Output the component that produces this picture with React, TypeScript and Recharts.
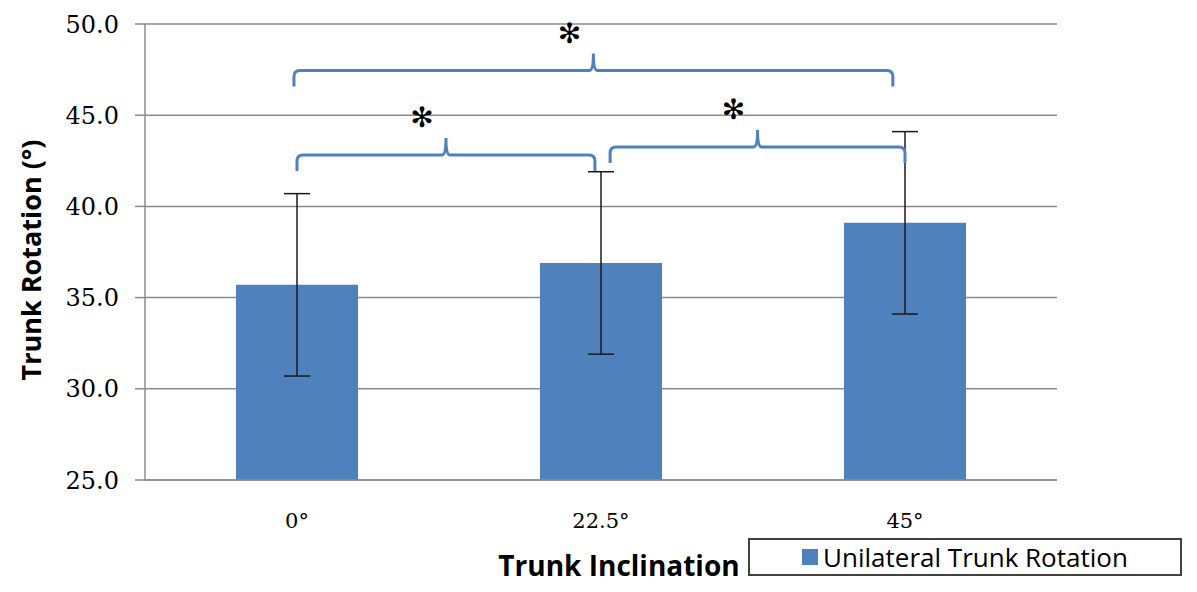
import React from "react";
import {
  BarChart,
  Bar,
  XAxis,
  YAxis,
  CartesianGrid,
  ErrorBar,
  Legend,
  ReferenceLine,
  Label,
} from "recharts";

const categories = ["0°", "22.5°", "45°"];
const rotationMean = [35.7, 36.9, 39.1];
const rotationSd = [5.0, 5.0, 5.0];
const yTicks = [25, 30, 35, 40, 45, 50];

// significance braces, x in category index units, y in degrees
const braces = [
  { x1: -0.01, x2: 1.96, y: 47.45 },
  { x1: 0.0, x2: 0.98, y: 42.82 },
  { x1: 1.03, x2: 2.0, y: 43.26 },
];

const rows = categories.map((name, i) => ({
  x: i,
  name,
  mean: rotationMean[i],
  sd: rotationSd[i],
}));

const BLUE = "#4F81BD";
const GRID = "#8c8c8c";

const BraceShape = (props: any) => {
  const { x1, y1, x2 } = props;
  const y = y1;
  const drop = 16;
  const rise = 17;
  const r = 6;
  const mid = (x1 + x2) / 2;
  const d = [
    `M ${x1} ${y + drop}`,
    `L ${x1} ${y + r}`,
    `Q ${x1} ${y} ${x1 + r} ${y}`,
    `L ${mid - 4} ${y}`,
    `Q ${mid} ${y} ${mid} ${y - rise}`,
    `Q ${mid} ${y} ${mid + 4} ${y}`,
    `L ${x2 - r} ${y}`,
    `Q ${x2} ${y} ${x2} ${y + r}`,
    `L ${x2} ${y + drop}`,
  ].join(" ");
  return (
    <g>
      <path d={d} fill="none" stroke={BLUE} strokeWidth={3} />
      <text
        x={mid - 24}
        y={y - 37}
        textAnchor="middle"
        dominantBaseline="central"
        fontFamily="DejaVu Sans"
        fontSize={28}
        fill="#000"
      >
        ✻
      </text>
    </g>
  );
};

const LegendBox = () => (
  <div
    style={{
      width: 434,
      height: 38,
      boxSizing: "border-box",
      border: "2px solid #404040",
      background: "#fff",
      display: "flex",
      alignItems: "center",
      justifyContent: "center",
      fontFamily: "Open Sans",
      fontSize: 26,
      lineHeight: "30px",
      color: "#000",
      overflow: "hidden",
      whiteSpace: "nowrap",
    }}
  >
    <span
      style={{
        width: 16,
        height: 16,
        background: BLUE,
        display: "inline-block",
        marginRight: 5,
        flexShrink: 0,
      }}
    />
    <span>Unilateral Trunk Rotation</span>
  </div>
);

const YTitle = (props: any) => {
  const vb = props.viewBox;
  const cx = vb.x + 22;
  const cy = vb.y + vb.height / 2 + 8;
  return (
    <text
      x={cx}
      y={cy}
      transform={`rotate(-90, ${cx}, ${cy})`}
      textAnchor="middle"
      dominantBaseline="central"
      fontFamily="Open Sans"
      fontWeight="bold"
      fontSize={27}
      fill="#000"
    >
      Trunk Rotation (°)
    </text>
  );
};

const XTitle = (props: any) => {
  const vb = props.viewBox;
  const cx = vb.x + vb.width / 2 + 18;
  const baseline = vb.y + 96;
  return (
    <text
      x={cx}
      y={baseline}
      textAnchor="middle"
      fontFamily="Open Sans"
      fontWeight="bold"
      fontSize={28}
      fill="#000"
    >
      Trunk Inclination
    </text>
  );
};

export default function App() {
  return (
    <div style={{ width: 1189, height: 576, overflow: "hidden" }}>
      <BarChart
        width={1189}
        height={576}
        data={rows}
        margin={{ top: 16, right: 140, bottom: 0, left: 0 }}
        barSize={122}
      >
        <CartesianGrid vertical={false} stroke={GRID} strokeWidth={1.5} />
        <XAxis
          dataKey="x"
          type="number"
          domain={[-0.5, 2.5]}
          ticks={[0, 1, 2]}
          tickFormatter={(v: number) => categories[v]}
          height={104}
          tickLine={false}
          tickSize={0}
          tickMargin={33}
          axisLine={{ stroke: GRID, strokeWidth: 1.5 }}
          tick={{ fontFamily: "DejaVu Serif", fontSize: 21, fill: "#000" }}
        >
          <Label content={XTitle} />
        </XAxis>
        <YAxis
          domain={[25, 50]}
          ticks={yTicks}
          width={137}
          tickFormatter={(v: number) => v.toFixed(1)}
          tickSize={10}
          tickMargin={16}
          tickLine={{ stroke: GRID, strokeWidth: 1.5 }}
          axisLine={{ stroke: GRID, strokeWidth: 1.5 }}
          tick={{ fontFamily: "DejaVu Serif", fontSize: 24, fill: "#000" }}
        >
          <Label content={YTitle} />
        </YAxis>
        <Bar dataKey="mean" fill={BLUE} isAnimationActive={false}>
          <ErrorBar
            dataKey="sd"
            width={13}
            stroke="#1a1a1a"
            strokeWidth={1.5}
            isAnimationActive={false}
          />
        </Bar>
        {braces.map((b, i) => (
          <ReferenceLine
            key={i}
            segment={[
              { x: b.x1, y: b.y },
              { x: b.x2, y: b.y },
            ]}
            shape={BraceShape}
          />
        ))}
        <Legend
          layout="horizontal"
          verticalAlign="middle"
          align="center"
          content={LegendBox}
          wrapperStyle={{ left: 740, top: 530, width: 434, height: 38 }}
        />
      </BarChart>
    </div>
  );
}
